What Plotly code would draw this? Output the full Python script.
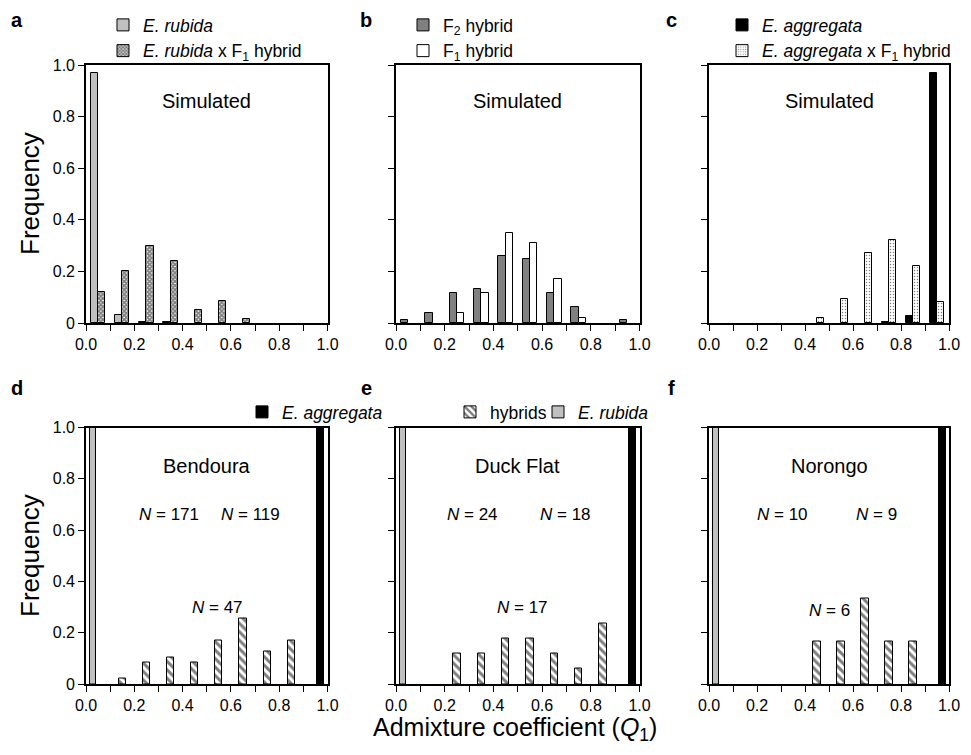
import plotly.graph_objects as go
from plotly.subplots import make_subplots

# ---------------- data ----------------
bins = [0.05, 0.15, 0.25, 0.35, 0.45, 0.55, 0.65, 0.75, 0.85, 0.95]

# a: simulated E. rubida / E. rubida x F1
a_rubida = [0.97, 0.03, 0.003, 0.003, 0, 0, 0, 0, 0, 0]
a_rubida_f1 = [0.12, 0.20, 0.30, 0.24, 0.05, 0.085, 0.015, 0, 0, 0]

# b: simulated F2 / F1 hybrids
b_f2 = [0.013, 0.037, 0.117, 0.13, 0.26, 0.248, 0.117, 0.062, 0, 0.013]
b_f1 = [0, 0, 0.037, 0.116, 0.347, 0.311, 0.17, 0.019, 0, 0]

# c: simulated E. aggregata / E. aggregata x F1
c_agg = [0, 0, 0, 0, 0, 0, 0, 0.003, 0.028, 0.97]
c_agg_f1 = [0, 0, 0, 0, 0.018, 0.094, 0.27, 0.322, 0.222, 0.08]

# d-f: observed populations
site_names = ["Bendoura", "Duck Flat", "Norongo"]
obs_rubida = [[1.0], [1.0], [1.0]]
obs_aggregata = [[1.0], [1.0], [1.0]]
obs_hybrids = [
    [0, 0.02, 0.085, 0.105, 0.085, 0.17, 0.255, 0.128, 0.17, 0],
    [0, 0, 0.118, 0.118, 0.176, 0.176, 0.118, 0.059, 0.235, 0],
    [0, 0, 0, 0, 0.167, 0.167, 0.333, 0.167, 0.167, 0],
]
n_rubida = [171, 24, 10]
n_aggregata = [119, 18, 9]
n_hybrids = [47, 17, 6]

x_ticks = [0.0, 0.1, 0.2, 0.3, 0.4, 0.5, 0.6, 0.7, 0.8, 0.9, 1.0]
x_ticktext = ["0.0", "", "0.2", "", "0.4", "", "0.6", "", "0.8", "", "1.0"]
y_ticks = [0, 0.2, 0.4, 0.6, 0.8, 1.0]
y_ticktext = ["0", "0.2", "0.4", "0.6", "0.8", "1.0"]

# ---------------- layout helpers ----------------
OFF = 8  # page body margin
W, H = 971 - 2 * OFF, 755 - 2 * OFF
FONT = "Liberation Sans, Arial, sans-serif"


def px(x):
    return (x - OFF) / W


def py(y):
    return 1 - (y - OFF) / H


def nz(vals):
    # empty bins are not drawn
    return [v if v > 0 else None for v in vals]


fig = make_subplots(rows=2, cols=3)

x_dom = [(86, 327.5), (396, 639.5), (709, 949)]
y_dom = [(323, 65), (684, 427.5)]

GRAY = "#c0c0c0"
DARK = "#808080"
LINE = dict(color="black", width=1)

pat_cross = dict(shape="x", fgcolor="black", bgcolor="#ffffff", size=3, solidity=0.8)
pat_dots = dict(shape=".", fgcolor="black", bgcolor="#ffffff", size=3, solidity=0.2)
pat_hatch = dict(shape="\\", fgcolor="black", bgcolor="#ffffff", size=6, solidity=0.5)

W_BAR = 0.03

# panel a
fig.add_trace(go.Bar(x=bins, y=nz(a_rubida), width=W_BAR, offset=-W_BAR,
                     marker=dict(color=GRAY, line=LINE),
                     name="<i>E. rubida</i>", legend="legend"), row=1, col=1)
fig.add_trace(go.Bar(x=bins, y=nz(a_rubida_f1), width=W_BAR, offset=0,
                     marker=dict(color="white", line=LINE, pattern=pat_cross),
                     name="<i>E. rubida</i> x F<sub>1</sub> hybrid", legend="legend"), row=1, col=1)
# panel b
fig.add_trace(go.Bar(x=bins, y=nz(b_f2), width=W_BAR, offset=-W_BAR,
                     marker=dict(color=DARK, line=LINE),
                     name="F<sub>2</sub> hybrid", legend="legend2"), row=1, col=2)
fig.add_trace(go.Bar(x=bins, y=nz(b_f1), width=W_BAR, offset=0,
                     marker=dict(color="white", line=LINE),
                     name="F<sub>1</sub> hybrid", legend="legend2"), row=1, col=2)
# panel c
fig.add_trace(go.Bar(x=bins, y=nz(c_agg), width=W_BAR, offset=-W_BAR,
                     marker=dict(color="black", line=LINE),
                     name="<i>E. aggregata</i>", legend="legend3"), row=1, col=3)
fig.add_trace(go.Bar(x=bins, y=nz(c_agg_f1), width=W_BAR, offset=0,
                     marker=dict(color="white", line=LINE, pattern=pat_dots),
                     name="<i>E. aggregata</i> x F<sub>1</sub> hybrid", legend="legend3"), row=1, col=3)

# panels d-f
for i in range(3):
    show = i == 0
    fig.add_trace(go.Bar(x=[bins[-1]], y=obs_aggregata[i], width=W_BAR, offset=0.007,
                         marker=dict(color="black", line=LINE),
                         name="<i>E. aggregata</i>", legend="legend4", showlegend=show),
                  row=2, col=i + 1)
    fig.add_trace(go.Bar(x=bins, y=nz(obs_hybrids[i]), width=W_BAR, offset=-W_BAR / 2,
                         marker=dict(color="white", line=LINE, pattern=pat_hatch),
                         name="hybrids", legend="legend5", showlegend=show),
                  row=2, col=i + 1)
    fig.add_trace(go.Bar(x=[bins[0]], y=obs_rubida[i], width=0.025, offset=-0.035,
                         marker=dict(color=GRAY, line=LINE),
                         name="<i>E. rubida</i>", legend="legend6", showlegend=show),
                  row=2, col=i + 1)

# axes
for r in range(2):
    for c in range(3):
        idx = r * 3 + c + 1
        xa = "xaxis" if idx == 1 else f"xaxis{idx}"
        ya = "yaxis" if idx == 1 else f"yaxis{idx}"
        fig.layout[xa].update(
            domain=[px(x_dom[c][0]), px(x_dom[c][1])], range=[0, 1],
            tickmode="array", tickvals=x_ticks, ticktext=x_ticktext,
            ticks="outside", ticklen=6, tickwidth=1.2, tickcolor="black",
            showline=True, mirror=True, linecolor="black", linewidth=1.6,
            showgrid=False, zeroline=False, automargin=False,
            ticklabeloverflow="allow",
            tickfont=dict(family=FONT, size=16, color="black"))
        fig.layout[ya].update(
            domain=[py(y_dom[r][0]), py(y_dom[r][1])], range=[0, 1],
            tickmode="array", tickvals=y_ticks, ticktext=y_ticktext,
            showticklabels=(c == 0),
            ticks="outside", ticklen=6, tickwidth=1.2, tickcolor="black",
            showline=True, mirror=True, linecolor="black", linewidth=1.6,
            showgrid=False, zeroline=False, automargin=False,
            ticklabeloverflow="allow",
            tickfont=dict(family=FONT, size=16, color="black"))

ann = []
# panel titles
for c in range(3):
    ann.append(dict(x=0.5, y=0.86, xref=f"x{c + 1} domain" if c else "x domain",
                    yref="y" if c == 0 else f"y{c + 1}", text="Simulated", showarrow=False,
                    font=dict(family=FONT, size=20, color="black")))
for c in range(3):
    idx = c + 4
    ann.append(dict(x=0.5, y=0.85, xref=f"x{idx} domain", yref=f"y{idx}",
                    text=site_names[c], showarrow=False,
                    font=dict(family=FONT, size=20, color="black")))
# N labels
n_pos = [((0.21, 0.66), (0.81, 0.66), (0.545, 0.30)),
         ((0.2, 0.66), (0.81, 0.66), (0.52, 0.30)),
         ((0.19, 0.66), (0.79, 0.66), (0.50, 0.285))]
for c in range(3):
    idx = c + 4
    vals = [n_rubida[c], n_aggregata[c], n_hybrids[c]]
    for (xx, yy), v in zip(n_pos[c], vals):
        ann.append(dict(x=xx, y=yy, xref=f"x{idx} domain", yref=f"y{idx}",
                        text=f"<i>N</i> = {v}", showarrow=False,
                        font=dict(family=FONT, size=17, color="black")))
# panel letters
for letter, (lx, ly) in zip("abcdef", [(17, 20), (366, 20), (671, 20),
                                       (17, 388), (366, 388), (671, 388)]):
    ann.append(dict(x=px(lx), y=py(ly), xref="paper", yref="paper", text=f"<b>{letter}</b>",
                    showarrow=False, xanchor="center", yanchor="middle",
                    font=dict(family=FONT, size=20, color="black")))
# axis titles
for yc in [194, 556]:
    ann.append(dict(x=px(30), y=py(yc), xref="paper", yref="paper", text="Frequency",
                    textangle=-90, showarrow=False, xanchor="center", yanchor="middle",
                    font=dict(family=FONT, size=26, color="black")))
ann.append(dict(x=px(515), y=py(729), xref="paper", yref="paper",
                text="Admixture coefficient (<i>Q</i><sub>1</sub>)", showarrow=False,
                xanchor="center", yanchor="middle",
                font=dict(family=FONT, size=25, color="black")))

leg_common = dict(font=dict(family=FONT, size=17.5, color="black"), bgcolor="rgba(0,0,0,0)",
                  xanchor="left", borderwidth=0, tracegroupgap=0)
fig.update_layout(
    width=W, height=H, margin=dict(l=0, r=0, t=0, b=0, autoexpand=False),
    paper_bgcolor="white", plot_bgcolor="white",
    barmode="overlay", bargap=0,
    annotations=ann,
    legend=dict(x=px(103), y=py(7), yanchor="top", **leg_common),
    legend2=dict(x=px(403), y=py(7), yanchor="top", **leg_common),
    legend3=dict(x=px(722), y=py(7), yanchor="top", **leg_common),
    legend4=dict(x=px(242), y=py(412), yanchor="middle", **leg_common),
    legend5=dict(x=px(450), y=py(412), yanchor="middle", **leg_common),
    legend6=dict(x=px(538), y=py(412), yanchor="middle", **leg_common),
)

fig.write_html("out.html")
